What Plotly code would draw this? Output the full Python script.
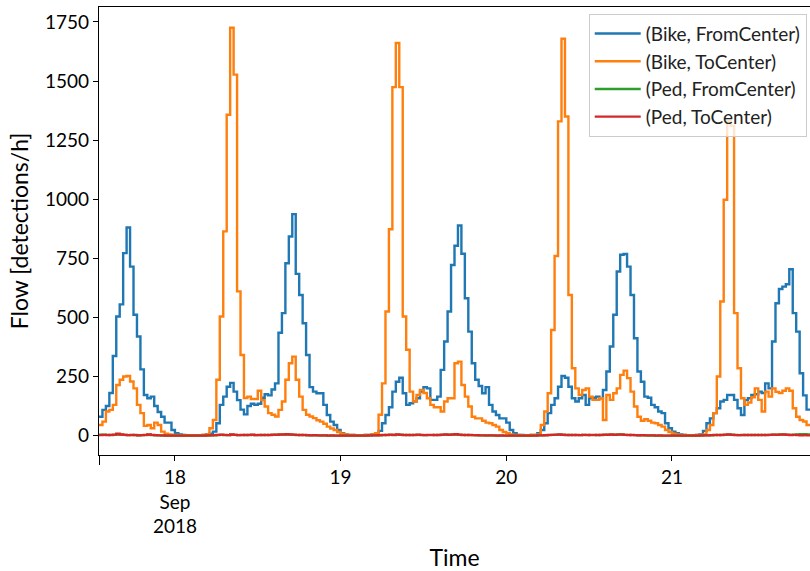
import pandas as pd
import plotly.graph_objects as go

# Half-hourly flow counts starting 2018-09-17 13:00
start = "2018-09-17 13:00"

bike_from_center = [
    80, 109, 125, 180, 337, 504, 555, 772, 880, 715, 511, 419, 280, 172, 158, 165, 125, 100, 80, 55, 55, 24,
    10, 5, 3, 2, 2, 2, 2, 2, 3, 5,
    8, 17, 52, 130, 165, 207, 223, 186, 150, 110, 90, 125, 135, 130, 135, 160,
    175, 170, 195, 221, 435, 518, 729, 842, 937, 684, 595, 475, 341, 205, 186, 179,
    179, 130, 87, 59, 45, 24, 10, 5, 3, 3, 2, 2, 2, 3, 3, 5,
    8, 20, 52, 87, 120, 186, 228, 245, 179, 130, 137, 144, 158, 186, 205, 200,
    151, 151, 165, 278, 398, 525, 722, 803, 889, 769, 581, 440, 306, 236, 210, 179,
    205, 130, 102, 87, 73, 73, 55, 24, 10, 3, 3, 2, 2, 3, 3, 10,
    24, 52, 95, 130, 158, 207, 252, 245, 207, 158, 144, 158, 172, 130, 158, 160,
    165, 158, 193, 271, 377, 511, 694, 765, 768, 715, 595, 412, 271, 228, 165, 160,
    130, 120, 102, 95, 52, 31, 17, 10, 5, 3, 2, 2, 2, 3, 5, 20,
    52, 73, 95, 116, 144, 151, 172, 172, 151, 116, 87, 150, 158, 172, 175, 186,
    180, 221, 200, 398, 560, 620, 630, 640, 704, 518, 440, 264, 170, 110,
]

bike_to_center = [
    45, 59, 102, 109, 130, 214, 236, 250, 252, 229, 200, 130, 95, 41, 45, 31, 55, 45, 17, 8, 5, 3,
    3, 2, 2, 2, 2, 2, 2, 2, 3, 5,
    31, 66, 236, 504, 864, 1357, 1725, 1527, 610, 341, 159, 165, 155, 155, 190, 150,
    123, 95, 88, 81, 109, 144, 236, 306, 334, 236, 165, 109, 88, 81, 74, 65,
    59, 50, 38, 30, 24, 15, 8, 5, 3, 3, 2, 2, 2, 3, 3, 5,
    10, 88, 221, 525, 873, 1474, 1661, 1474, 504, 363, 186, 144, 172, 193, 180, 158,
    130, 120, 120, 102, 144, 158, 158, 306, 313, 214, 165, 123, 80, 73, 73, 63,
    55, 52, 45, 38, 24, 15, 10, 5, 3, 3, 2, 2, 2, 3, 3, 5,
    45, 102, 179, 447, 760, 1329, 1679, 1350, 595, 285, 200, 172, 193, 200, 165, 151,
    151, 158, 66, 172, 151, 179, 200, 257, 275, 243, 186, 123, 80, 63, 69, 63,
    55, 52, 45, 38, 24, 15, 8, 5, 3, 3, 2, 2, 2, 3, 3, 5,
    24, 45, 95, 250, 567, 998, 1330, 1310, 518, 285, 158, 130, 140, 162, 200, 151,
    102, 186, 165, 200, 185, 180, 190, 200, 190, 116, 80, 66, 60, 45,
]

ped_from_center = [
    4, 4, 3, 2, 3, 5, 4, 3, 2, 2, 3, 1, 2, 2, 4, 2, 1, 1, 0, 0, 0, 0,
    0, 0, 0, 0, 0, 0, 0, 0, 0, 0,
    1, 1, 2, 3, 2, 2, 4, 3, 2, 2, 3, 2, 3, 2, 2, 3,
    2, 3, 3, 4, 4, 5, 5, 4, 3, 2, 3, 2, 1, 1, 1, 1,
    0, 1, 0, 0, 0, 0, 0, 0, 0, 0, 0, 0, 0, 0, 0, 1,
    1, 1, 2, 3, 3, 2, 4, 4, 3, 2, 3, 2, 3, 2, 2, 2,
    2, 3, 2, 3, 4, 4, 5, 5, 3, 2, 3, 2, 2, 1, 1, 1,
    0, 1, 0, 0, 0, 0, 0, 0, 0, 0, 0, 0, 0, 0, 0, 1,
    1, 1, 2, 3, 3, 4, 4, 3, 2, 3, 2, 2, 3, 3, 2, 2,
    3, 2, 3, 4, 4, 4, 5, 4, 3, 3, 2, 2, 1, 1, 1, 0,
    1, 0, 0, 0, 0, 0, 0, 0, 0, 0, 0, 0, 0, 0, 0, 1,
    1, 1, 2, 3, 2, 3, 4, 4, 3, 2, 2, 3, 2, 3, 2, 3,
    2, 3, 3, 4, 4, 5, 4, 4, 3, 4, 5, 6, 6, 5,
]

ped_to_center = [
    2, 3, 2, 3, 4, 8, 5, 3, 2, 3, 2, 1, 2, 3, 5, 3, 2, 1, 1, 0, 0, 0,
    0, 0, 0, 0, 0, 0, 0, 0, 0, 1,
    1, 2, 3, 4, 3, 2, 5, 3, 2, 3, 2, 3, 4, 2, 3, 2,
    3, 2, 4, 3, 5, 4, 6, 5, 4, 3, 2, 3, 2, 1, 2, 1,
    1, 1, 0, 1, 0, 0, 0, 0, 0, 0, 0, 0, 0, 0, 1, 1,
    1, 2, 3, 2, 4, 3, 5, 3, 2, 3, 2, 3, 4, 3, 2, 3,
    3, 2, 3, 4, 5, 3, 4, 6, 4, 3, 2, 3, 2, 2, 1, 1,
    1, 1, 1, 0, 1, 0, 0, 0, 0, 0, 0, 0, 0, 0, 0, 1,
    1, 2, 3, 3, 4, 5, 3, 2, 3, 2, 3, 2, 3, 2, 3, 3,
    2, 3, 4, 3, 5, 3, 4, 5, 3, 2, 3, 2, 1, 2, 1, 1,
    1, 0, 1, 0, 0, 0, 0, 0, 0, 0, 0, 0, 0, 0, 1, 1,
    1, 2, 3, 2, 3, 4, 5, 3, 2, 2, 3, 2, 3, 2, 3, 2,
    3, 2, 3, 4, 3, 4, 5, 3, 2, 3, 2, 1, 2, 1,
]

series = [
    ("(Bike, FromCenter)", bike_from_center, "#1f77b4"),
    ("(Bike, ToCenter)", bike_to_center, "#ff7f0e"),
    ("(Ped, FromCenter)", ped_from_center, "#2ca02c"),
    ("(Ped, ToCenter)", ped_to_center, "#d62728"),
]

y_ticks = [0, 250, 500, 750, 1000, 1250, 1500, 1750]
day_ticks = ["2018-09-18", "2018-09-19", "2018-09-20", "2018-09-21"]
day_labels = ["18<br>Sep<br>2018", "19", "20", "21"]

n = len(bike_from_center)
times = pd.date_range(start, periods=n + 1, freq="30min")

fig = go.Figure()
for name, vals, color in series:
    # repeat the final value so the last half-hour step is drawn to the end
    fig.add_trace(go.Scatter(
        x=times, y=list(vals) + [vals[-1]], name=name, mode="lines",
        line=dict(color=color, width=2.4, shape="hv"),
        hoverinfo="skip",
    ))

font = "Lato"
fig.update_layout(
    width=810, height=571,
    margin=dict(l=99, r=0, t=7, b=116),
    paper_bgcolor="white", plot_bgcolor="white",
    font=dict(family=font, size=19, color="black"),
    showlegend=True,
    legend=dict(
        x=0.9954, xanchor="right", y=0.985, yanchor="top",
        bgcolor="rgba(255,255,255,0.8)", bordercolor="#cccccc", borderwidth=1,
        font=dict(family=font, size=19, color="#222222"),
        itemwidth=46,
    ),
    xaxis=dict(
        range=[times[0], times[-1]],
        tickmode="array", tickvals=day_ticks, ticktext=day_labels,
        ticks="outside", ticklen=5, tickwidth=1, tickcolor="black",
        tickfont=dict(size=19),
        showline=True, linecolor="black", linewidth=1.2, mirror=True,
        showgrid=False, zeroline=False,
        minor=dict(tickmode="array", tickvals=[times[0]], ticks="outside", ticklen=9, tickcolor="black"),
        title=dict(text="Time", standoff=13, font=dict(size=23)),
        automargin=False,
    ),
    yaxis=dict(
        range=[-82, 1813],
        tickmode="array", tickvals=y_ticks,
        ticks="outside", ticklen=5, tickwidth=1, tickcolor="black",
        tickfont=dict(size=19),
        showline=True, linecolor="black", linewidth=1.2,
        showgrid=False, zeroline=False,
        title=dict(text="Flow [detections/h]", standoff=9, font=dict(size=23)),
        automargin=False,
    ),
)

fig.write_html("out.html", config={"displayModeBar": False})
